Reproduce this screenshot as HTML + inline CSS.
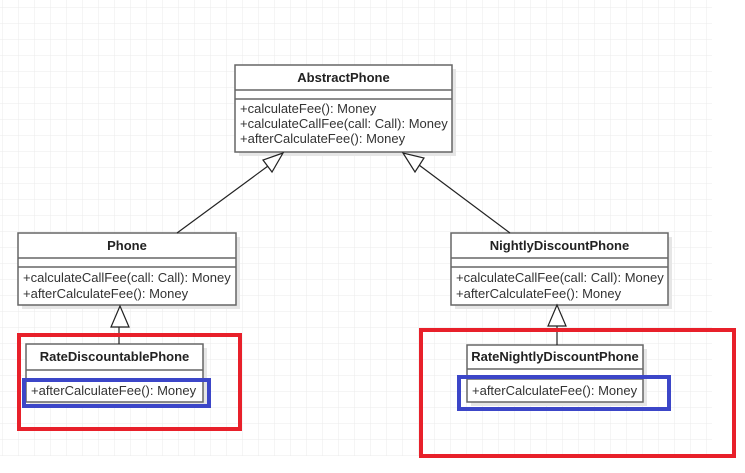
<!DOCTYPE html>
<html><head><meta charset="utf-8"><style>
html,body{margin:0;padding:0;background:#fff;width:745px;height:473px;overflow:hidden;}
svg{display:block;font-family:"Liberation Sans",Arial,sans-serif;}
</style></head><body>
<svg width="745" height="473" viewBox="0 0 745 473" xmlns="http://www.w3.org/2000/svg">
<defs>
<pattern id="g" width="16" height="16" patternUnits="userSpaceOnUse" x="3" y="8">
<path d="M16 0V16M0 16H16" fill="none" stroke="#ebebeb" stroke-width="1"/>
</pattern>
</defs>
<rect x="0" y="0" width="712" height="456" fill="url(#g)"/>

<!-- shadows -->
<g fill="#e6e6e6">
<rect x="239" y="69" width="217" height="87"/>
<rect x="22" y="237" width="218" height="72"/>
<rect x="455" y="237" width="217" height="72"/>
<rect x="30" y="348" width="177" height="58"/>
<rect x="471" y="349" width="176" height="57"/>
</g>

<g stroke="#666" stroke-width="1.5" fill="#fff">
<rect x="235" y="65" width="217" height="87"/>
<line x1="235" y1="90" x2="452" y2="90"/><line x1="235" y1="99" x2="452" y2="99"/>
<rect x="18" y="233" width="218" height="72"/>
<line x1="18" y1="258" x2="236" y2="258"/><line x1="18" y1="267" x2="236" y2="267"/>
<rect x="451" y="233" width="217" height="72"/>
<line x1="451" y1="258" x2="668" y2="258"/><line x1="451" y1="267" x2="668" y2="267"/>
<rect x="26" y="344" width="177" height="58"/>
<line x1="26" y1="370" x2="203" y2="370"/><line x1="26" y1="379" x2="203" y2="379"/>
<rect x="467" y="345" width="176" height="57"/>
<line x1="467" y1="369" x2="643" y2="369"/><line x1="467" y1="379" x2="643" y2="379"/>
</g>

<!-- connectors -->
<g stroke="#222" stroke-width="1.2" fill="#fff">
<line x1="268" y1="166" x2="177" y2="233"/>
<polygon points="283,153 263,160 272,172"/>
<line x1="419" y1="165" x2="510" y2="233"/>
<polygon points="403,153 415,172 424,158"/>
<line x1="119" y1="327" x2="119" y2="344"/>
<polygon points="120,306 111,327 129,327"/>
<line x1="557" y1="326" x2="557" y2="345"/>
<polygon points="557,305 548,326 566,326"/>
</g>

<g font-size="13" fill="#333">
<text x="343.5" y="82" text-anchor="middle" font-weight="bold" fill="#222">AbstractPhone</text>
<text x="240" y="113">+calculateFee(): Money</text>
<text x="240" y="128">+calculateCallFee(call: Call): Money</text>
<text x="240" y="143">+afterCalculateFee(): Money</text>
<text x="127" y="250" text-anchor="middle" font-weight="bold" fill="#222">Phone</text>
<text x="23" y="282">+calculateCallFee(call: Call): Money</text>
<text x="23" y="298">+afterCalculateFee(): Money</text>
<text x="559.5" y="250" text-anchor="middle" font-weight="bold" fill="#222">NightlyDiscountPhone</text>
<text x="456" y="282">+calculateCallFee(call: Call): Money</text>
<text x="456" y="298">+afterCalculateFee(): Money</text>
<text x="114.5" y="361" text-anchor="middle" font-weight="bold" fill="#222">RateDiscountablePhone</text>
<text x="31" y="395">+afterCalculateFee(): Money</text>
<text x="555" y="361" text-anchor="middle" font-weight="bold" fill="#222">RateNightlyDiscountPhone</text>
<text x="472" y="395">+afterCalculateFee(): Money</text>
</g>

<g fill="none">
<rect x="19" y="335" width="221" height="94" stroke="#e8202a" stroke-width="4"/>
<rect x="24" y="380" width="185" height="26" stroke="#3c46c8" stroke-width="4"/>
<rect x="421" y="330" width="313" height="126" stroke="#e8202a" stroke-width="4"/>
<rect x="459" y="377" width="210" height="32" stroke="#3c46c8" stroke-width="4"/>
</g>
</svg>
</body></html>
